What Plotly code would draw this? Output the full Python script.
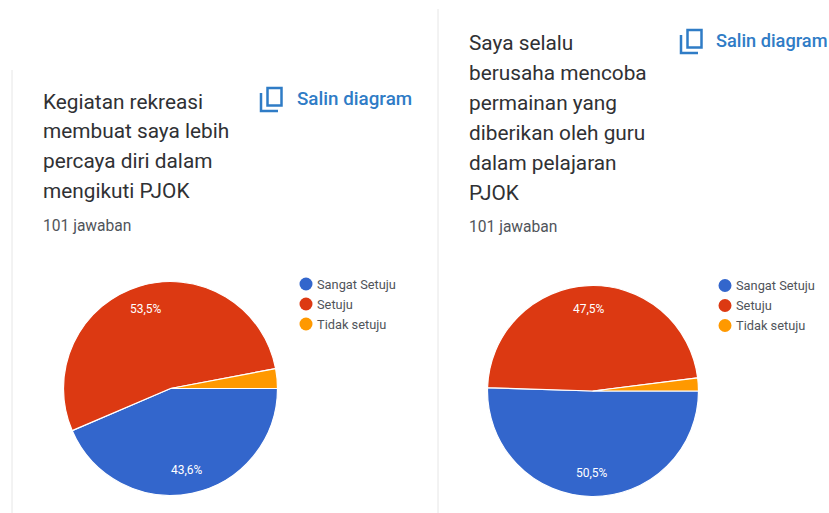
import math
import plotly.graph_objects as go

W, H = 829, 513

categories = ["Sangat Setuju", "Setuju", "Tidak setuju"]
colors = ["#3366cc", "#dc3912", "#ff9900"]
values_left = [44, 54, 3]
values_right = [51, 48, 2]
labels_left = ["43,6%", "53,5%", ""]
labels_right = ["50,5%", "47,5%", ""]
title_left = ["Kegiatan rekreasi", "membuat saya lebih", "percaya diri dalam", "mengikuti PJOK"]
title_right = ["Saya selalu", "berusaha mencoba", "permainan yang", "diberikan oleh guru", "dalam pelajaran", "PJOK"]
responses = "101 jawaban"
copy_label = "Salin diagram"

FONT = "Roboto"
TEXT = "#303134"
GREY = "#50545a"
BLUE = "#2f7cc6"


def px(x):
    return x / W


def py(y):
    return 1 - y / H


ann = []
shapes = []


def text(x, y, s, size, color, weight=400, anchor="left"):
    ann.append(dict(
        x=px(x), y=py(y), xref="paper", yref="paper", text=s, showarrow=False,
        xanchor=anchor, yanchor="middle",
        xshift=-2 if anchor == "left" else 0,
        font=dict(family=FONT, size=size, color=color, weight=weight),
    ))


def pie(values, labels, cx, cy, r):
    # slice labels sit on each slice's mid-angle, as in the reference
    total = sum(values)
    start = 90.0
    for v, lab in zip(values, labels):
        mid = start + 180.0 * v / total
        start += 360.0 * v / total
        if lab:
            a = math.radians(mid)
            text(cx + 0.78 * r * math.sin(a), cy - 0.78 * r * math.cos(a), lab, 12, "#ffffff", anchor="center")
    return go.Pie(
        values=values,
        labels=categories,
        textinfo="none",
        sort=False,
        direction="clockwise",
        rotation=90,
        marker=dict(colors=colors, line=dict(color="#ffffff", width=1.2)),
        domain=dict(x=[px(cx - r), px(cx + r)], y=[py(cy + r), py(cy - r)]),
        showlegend=False,
    )


fig = go.Figure([
    pie(values_left, labels_left, 170.5, 388.5, 107),
    pie(values_right, labels_right, 593, 391, 105.5),
])


def panel(x_text, title_ys, title, resp_y, icon_x, icon_y, copy_x, copy_y, copy_size, leg_x, leg_y, rule_x, rule_top):
    shapes.append(dict(type="line", xref="paper", yref="paper",
                       x0=px(rule_x), x1=px(rule_x), y0=py(rule_top), y1=py(H),
                       line=dict(color="#e6e6e6", width=1)))
    for line, yy in zip(title, title_ys):
        text(x_text, yy, line, 20.8, TEXT)
    text(x_text, resp_y, responses, 15.6, GREY)
    text(copy_x, copy_y, copy_label, copy_size, BLUE, 500)
    # copy icon
    sx, sy = icon_x + 7.5, icon_y
    shapes.append(dict(type="rect", xref="paper", yref="paper",
                       x0=px(sx), x1=px(sx + 14), y0=py(sy), y1=py(sy + 17.5),
                       line=dict(color=BLUE, width=2.5)))
    bx, by = icon_x + 1, icon_y + 5
    path = f"M {px(bx)} {py(by)} L {px(bx)} {py(by + 18)} L {px(bx + 17)} {py(by + 18)}"
    shapes.append(dict(type="path", xref="paper", yref="paper", path=path,
                       line=dict(color=BLUE, width=2.5)))
    # legend
    for i, (cat, col) in enumerate(zip(categories, colors)):
        yy = leg_y + i * 20
        shapes.append(dict(type="circle", xref="paper", yref="paper",
                           x0=px(leg_x - 6.5), x1=px(leg_x + 6.5),
                           y0=py(yy + 6.5), y1=py(yy - 6.5),
                           fillcolor=col, line=dict(width=0)))
        text(leg_x + 11, yy, cat, 12.8, GREY)


panel(43, [102, 131, 161, 191], title_left, 226, 260, 88, 297, 99, 18.8, 306, 284, 12, 70)
panel(468.5, [43, 73, 103, 133, 163, 193], title_right, 227, 680, 30, 716, 40, 18.2, 725, 285.5, 438, 9)

fig.update_layout(
    width=W, height=H,
    margin=dict(l=0, r=0, t=0, b=0),
    paper_bgcolor="#ffffff",
    plot_bgcolor="#ffffff",
    annotations=ann,
    shapes=shapes,
    font=dict(family=FONT),
)

fig.write_html("out.html", config=dict(displayModeBar=False),
               post_script="document.body.style.margin='0';")
